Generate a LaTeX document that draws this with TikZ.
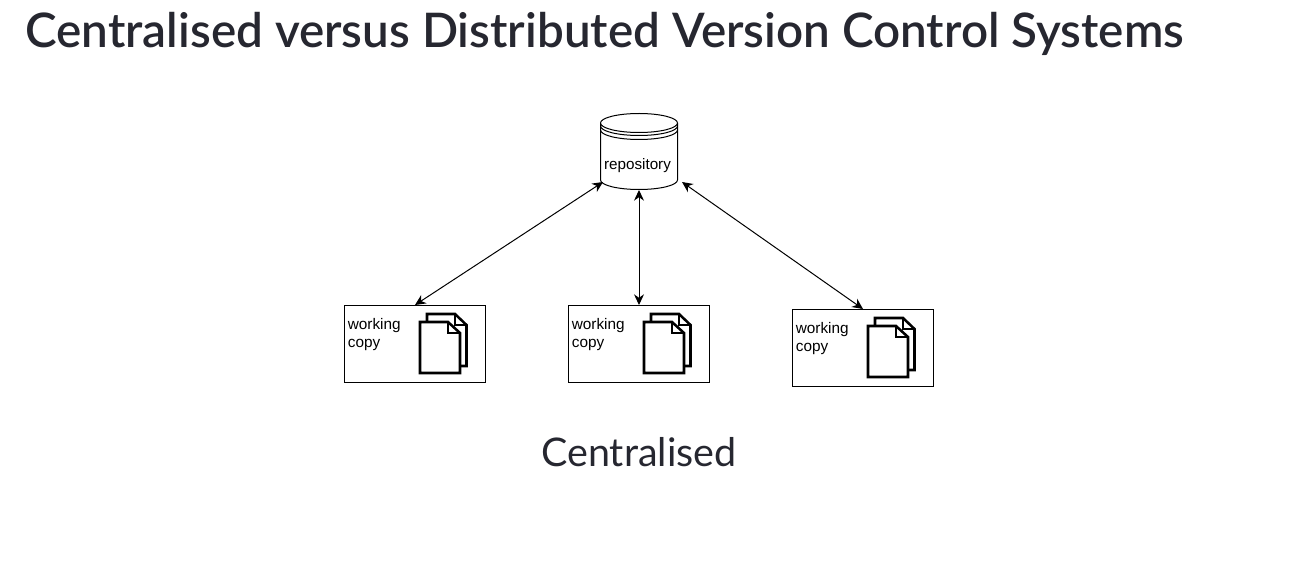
\documentclass[tikz,border=0pt]{standalone}
\usepackage{fontspec}
\setmainfont{Liberation Sans}
\newfontfamily\headfont[BoldFont={Lato Semibold}]{Lato}
\usetikzlibrary{positioning,arrows.meta}
\definecolor{headtext}{HTML}{262730}

\tikzset{
    copybox/.style={rectangle, draw, line width=0.75pt, minimum width=105.75pt, minimum height=57.75pt},
    linked/.style={{Stealth[length=8pt,width=7.5pt]}-{Stealth[length=8pt,width=7.5pt]}, line width=0.75pt},
    pics/docs/.style={code={
        \draw[line width=1.9pt, fill=white] (12,-30) -- (40,-30) -- (51.5,-19) -- (51.5,22) -- (12,22) -- cycle;
        \draw[line width=1.9pt] (40,-30) -- (40,-19) -- (51.5,-19);
        \draw[line width=1.9pt, fill=white] (5,-22) -- (33,-22) -- (45,-11) -- (45,29) -- (5,29) -- cycle;
        \draw[line width=1.9pt] (33,-22) -- (33,-11) -- (45,-11);
    }}
}

\begin{document}
\begin{tikzpicture}[x=0.75pt, y=-0.75pt, line width=0.75pt, node distance=61.5pt]
    \useasboundingbox (0,0) rectangle (1290,570);
    \node[anchor=west, inner sep=0pt, text=headtext] (title) at (25,34) {\headfont\fontsize{35.7pt}{42pt}\selectfont\bfseries Centralised versus Distributed Version Control Systems};

    % repository
    \draw (600.5,123) arc[x radius=38.5, y radius=9.5, start angle=180, end angle=-180]
        -- (600.5,180) arc[x radius=38.5, y radius=9.5, start angle=180, end angle=0] -- (677.5,123);
    \draw (600.5,126) arc[x radius=38.5, y radius=9.5, start angle=180, end angle=0];
    \draw (600.5,130) arc[x radius=38.5, y radius=9.5, start angle=180, end angle=0];
    \node[inner sep=0pt, font=\fontsize{11.4pt}{13pt}\selectfont] (repo) at (637.5,166) {repository};
    \coordinate (repoleft) at (603,182);
    \coordinate (repomid) at (639,190);
    \coordinate (reporight) at (682,182);

    % working copies
    \node[copybox] (copyA) at (415,344) {};
    \node[copybox, right=of copyA] (copyB) {};
    \node[copybox, right=of copyB, yshift=-3pt] (copyC) {};
    \foreach \n in {copyA,copyB,copyC} {
        \pic at (\n.center) {docs};
        \node[anchor=north west, inner sep=0pt, align=left, font=\fontsize{11.5pt}{13.5pt}\selectfont, xshift=2.5pt, yshift=-10pt] (\n text) at (\n.north west) {working\\copy};
    }

    \draw[linked] (repoleft) -- (copyA.north);
    \draw[linked] (repomid) -- (copyB.north);
    \draw[linked] (reporight) -- (copyC.north);

    \node[font=\headfont\fontsize{29.6pt}{34pt}\selectfont, text=headtext] (caption) at (639,452) {Centralised};
\end{tikzpicture}
\end{document}
